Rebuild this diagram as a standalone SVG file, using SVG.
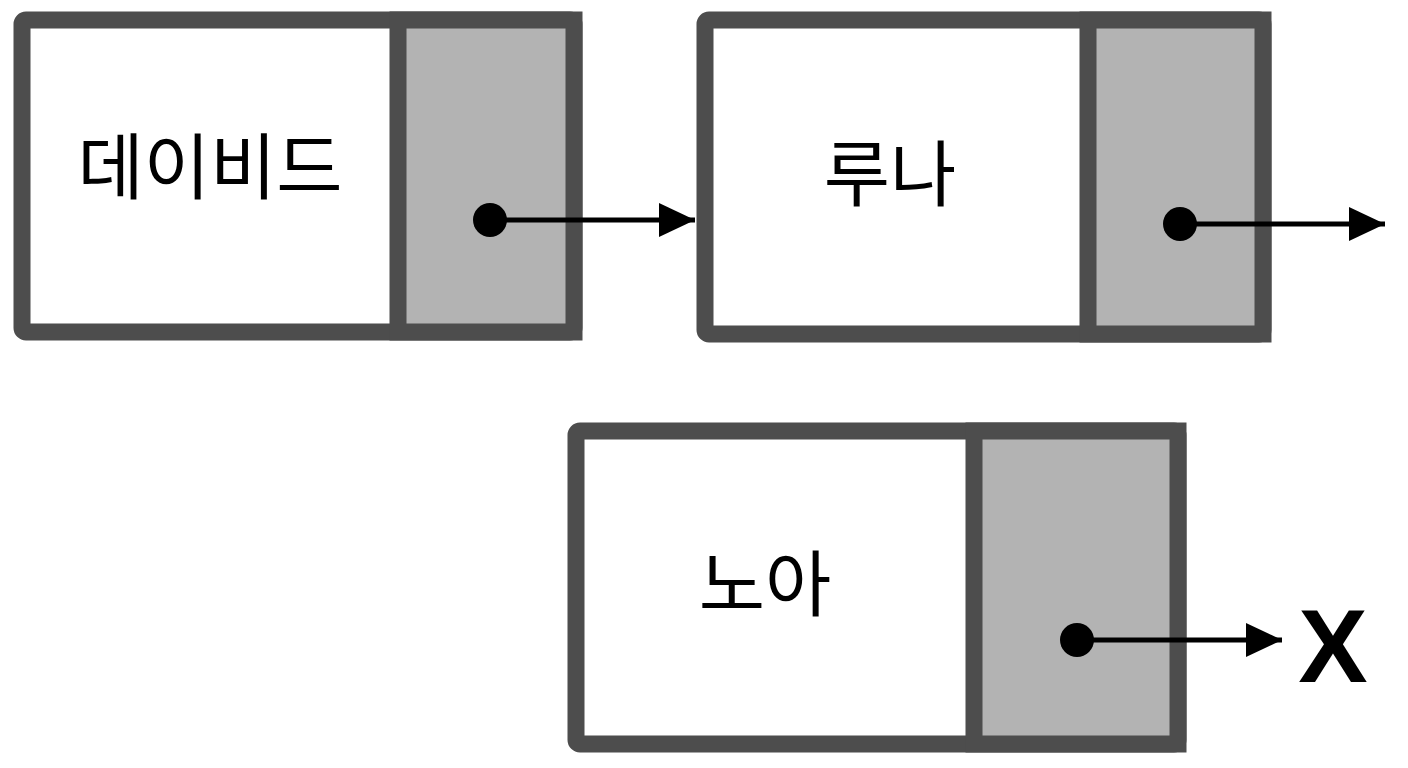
<svg xmlns="http://www.w3.org/2000/svg" width="1408" height="768" viewBox="0 0 1408 768">
<style>
.box{fill:#fff;stroke:#4d4d4d;stroke-width:17;stroke-linejoin:round}
.ptr{fill:#b3b3b3;stroke:#4d4d4d;stroke-width:17}
.lbl{font-family:"Noto Sans CJK KR","Noto Sans",sans-serif;font-size:72px;fill:#000;text-anchor:middle}
.ln{stroke:#000;stroke-width:5;fill:none}
</style>
<defs><marker id="ah" markerWidth="10" markerHeight="10" refX="9" refY="5" orient="auto" markerUnits="userSpaceOnUse" viewBox="0 0 10 10"><path d="M0,0 L10,5 L0,10z"/></marker>
<marker id="a" viewBox="0 0 10 10" refX="10" refY="5" markerWidth="36" markerHeight="34" markerUnits="userSpaceOnUse" orient="auto" preserveAspectRatio="none"><path d="M0,0 L10,5 L0,10z" fill="#000"/></marker></defs>
<rect width="1408" height="768" fill="#fff"/>
<g id="node1"><rect class="box" x="22" y="20" width="552" height="312" rx="4"/><rect class="ptr" x="398" y="20" width="176" height="312"/><text class="lbl" x="210" y="193">데이비드</text></g>
<g id="node2"><rect class="box" x="705" y="20" width="558" height="314" rx="4"/><rect class="ptr" x="1088" y="20" width="175" height="314"/><text class="lbl" x="890" y="200">루나</text></g>
<g id="node3"><rect class="box" x="576" y="431" width="602" height="313" rx="4"/><rect class="ptr" x="974" y="431" width="204" height="313"/><text class="lbl" x="765" y="610">노아</text></g>
<g id="connectors">
<circle cx="490" cy="220" r="17"/><line class="ln" x1="490" y1="220" x2="695" y2="220" marker-end="url(#a)"/>
<circle cx="1180" cy="224" r="17"/><line class="ln" x1="1180" y1="224" x2="1385" y2="224" marker-end="url(#a)"/>
<circle cx="1077" cy="640" r="17"/><line class="ln" x1="1077" y1="640" x2="1282" y2="640" marker-end="url(#a)"/>
</g>
<text x="1333" y="682" font-family="Liberation Sans,sans-serif" font-weight="bold" font-size="104" text-anchor="middle">X</text>
</svg>
